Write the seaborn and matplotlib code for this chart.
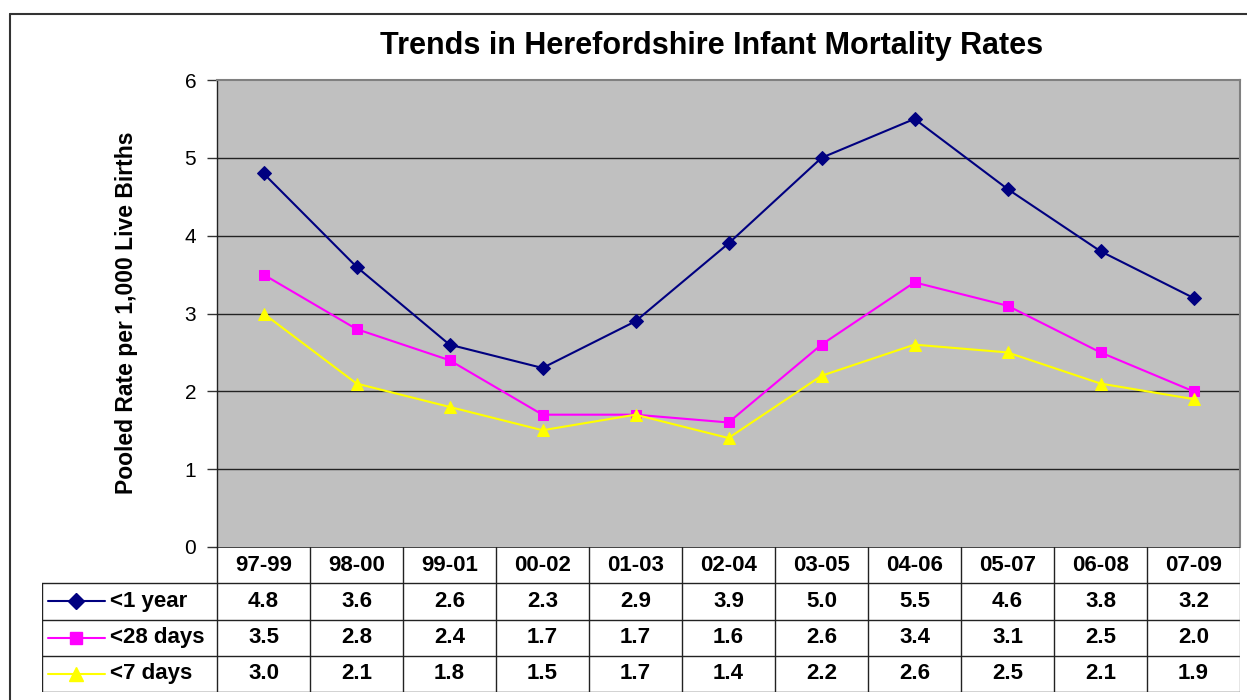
import numpy as np
import pandas as pd
import seaborn as sns
import matplotlib.pyplot as plt
from matplotlib.lines import Line2D

# %% Data
periods = ['97-99', '98-00', '99-01', '00-02', '01-03', '02-04',
           '03-05', '04-06', '05-07', '06-08', '07-09']
under_1_year = [4.8, 3.6, 2.6, 2.3, 2.9, 3.9, 5.0, 5.5, 4.6, 3.8, 3.2]
under_28_days = [3.5, 2.8, 2.4, 1.7, 1.7, 1.6, 2.6, 3.4, 3.1, 2.5, 2.0]
under_7_days = [3.0, 2.1, 1.8, 1.5, 1.7, 1.4, 2.2, 2.6, 2.5, 2.1, 1.9]

series_names = ['<1 year', '<28 days', '<7 days']
series_values = [under_1_year, under_28_days, under_7_days]
colors = ['#000080', '#FF00FF', '#FFFF00']
markers = ['D', 's', '^']
marker_sizes = [7, 7.5, 8.5]

rows = []
for name, vals in zip(series_names, series_values):
    for i, (p, v) in enumerate(zip(periods, vals)):
        rows.append(dict(idx=i, period=p, series=name, rate=v))
df = pd.DataFrame(rows)

# %% Figure
sns.set_theme(style='white')
plt.rcParams['font.family'] = ['Liberation Sans', 'DejaVu Sans']
plt.rcParams['text.color'] = 'black'
plt.rcParams['ytick.labelcolor'] = 'black'

W, H = 1247, 700
fig = plt.figure(figsize=(W / 100, H / 100), dpi=100)


def px_rect(x0, y0, x1, y1):
    return [x0 / W, 1 - y1 / H, (x1 - x0) / W, (y1 - y0) / H]


# outer chart frame
fig.add_artist(Line2D([10 / W, 1], [1 - 14 / H, 1 - 14 / H], color='#333333', lw=1.5))
fig.add_artist(Line2D([10 / W, 10 / W], [0, 1 - 14 / H], color='#333333', lw=1.5))

ax = fig.add_axes(px_rect(217, 80, 1240, 547))
ax.set_facecolor('#C0C0C0')

for name, c, m, ms in zip(series_names, colors, markers, marker_sizes):
    sub = df[df['series'] == name]
    sns.lineplot(data=sub, x='idx', y='rate', color=c, marker=m, markersize=ms,
                 markeredgecolor=c, linewidth=1.5, ax=ax, legend=False)

ax.set_xlim(-0.5, len(periods) - 0.5)
ax.set_ylim(0, 6)
ax.set_yticks(range(0, 7))
ax.set_xticks([])
ax.set_xlabel('')
ax.set_ylabel('')
ax.tick_params(axis='y', which='both', left=True, length=7, width=1, color='#333333',
               labelsize=15, pad=8, labelcolor='black')
for y in range(1, 6):
    ax.axhline(y, color='#222222', lw=1, zorder=0.5)
for side in ['top', 'right']:
    ax.spines[side].set_color('#808080')
    ax.spines[side].set_linewidth(1.5)
ax.spines['left'].set_color('#222222')
ax.spines['left'].set_linewidth(1)
ax.spines['bottom'].set_visible(False)

fig.text(712 / W, 1 - 46 / H, 'Trends in Herefordshire Infant Mortality Rates',
         ha='center', va='center', fontsize=22, fontweight='bold')
fig.text(127 / W, 1 - 313 / H, 'Pooled Rate per 1,000 Live Births', rotation=90,
         ha='center', va='center', fontsize=16.5, fontweight='bold')

# %% Data table
col_w = (1240 - 217) / len(periods)
leg_w = (217 - 42) / col_w
tab = fig.add_axes(px_rect(42, 547, 1240, 692))
tab.set_xlim(-0.5 - leg_w, len(periods) - 0.5)
tab.set_ylim(0, 4)
tab.axis('off')

n = len(periods)
lc = '#222222'
tab.plot([-0.5, n - 0.5], [4, 4], color=lc, lw=1.2)
for y in [0, 1, 2, 3]:
    tab.plot([-0.5 - leg_w, n - 0.5], [y, y], color=lc, lw=1)
for i in range(n + 1):
    tab.plot([i - 0.5, i - 0.5], [0, 4], color=lc if i < n else '#808080', lw=1)
tab.plot([-0.5 - leg_w, -0.5 - leg_w], [0, 3], color=lc, lw=1)

for i, p in enumerate(periods):
    tab.text(i, 3.5, p, ha='center', va='center', fontsize=16, fontweight='bold')


def px_to_col(px):
    return (px - 217) / col_w - 0.5


for r, (name, vals, c, m, ms) in enumerate(zip(series_names, series_values, colors,
                                                markers, marker_sizes)):
    yc = 2.5 - r
    tab.plot([px_to_col(48), px_to_col(105)], [yc, yc], color=c, lw=1.5)
    tab.plot([px_to_col(76)], [yc], color=c, marker=m, markersize=ms + 1,
             markeredgecolor=c)
    tab.text(px_to_col(110), yc, name, ha='left', va='center', fontsize=16,
             fontweight='bold')
    for i, v in enumerate(vals):
        tab.text(i, yc, f'{v:.1f}', ha='center', va='center', fontsize=16,
                 fontweight='bold')

fig.savefig('out.png', dpi=100)
